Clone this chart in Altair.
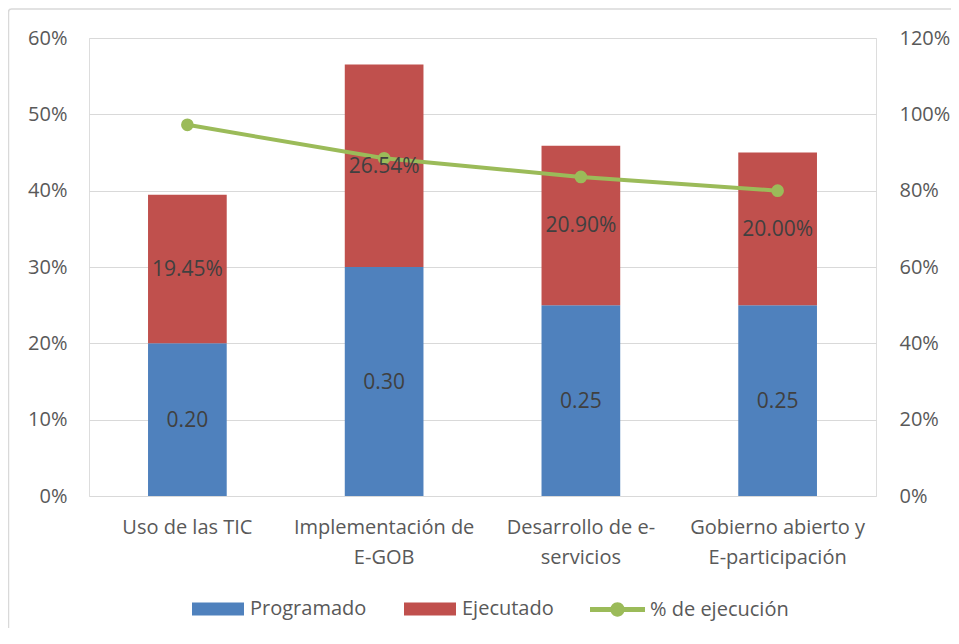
import altair as alt
import pandas as pd

categorias = ["Uso de las TIC", "Implementación de E-GOB", "Desarrollo de e-servicios",
              "Gobierno abierto y E-participación"]
lineas_etiqueta = [["Uso de las TIC"], ["Implementación de", "E-GOB"],
                   ["Desarrollo de e-", "servicios"], ["Gobierno abierto y", "E-participación"]]
programado = [0.20, 0.30, 0.25, 0.25]
ejecutado = [0.1945, 0.2654, 0.2090, 0.2000]
pct_ejecucion = [0.9725, 0.8847, 0.8360, 0.8000]
series_barras = ["Programado", "Ejecutado"]
colores_barras = ["#4F81BD", "#C0504D"]
serie_linea = "% de ejecución"
color_linea = "#9BBB59"
ticks_izq = [0, 0.1, 0.2, 0.3, 0.4, 0.5, 0.6]
ticks_der = [0, 0.2, 0.4, 0.6, 0.8, 1.0, 1.2]

FONT = "Open Sans"
GRAY = "#595959"

rows = []
for c, p, e in zip(categorias, programado, ejecutado):
    rows.append({"categoria": c, "serie": series_barras[0], "valor": p, "orden": 0})
    rows.append({"categoria": c, "serie": series_barras[1], "valor": e, "orden": 1})
barras_df = pd.DataFrame(rows)
linea_df = pd.DataFrame({"categoria": categorias, "serie": serie_linea, "pct": pct_ejecucion})

# label expression for multi-line category labels
expr = "datum.label"
for c, lines in reversed(list(zip(categorias, lineas_etiqueta))):
    arr = "[" + ",".join("'" + l + "'" for l in lines) + "]"
    expr = f"datum.label === '{c}' ? {arr} : ({expr})"

x_enc = alt.X(
    "categoria:N", sort=categorias, title=None,
    scale=alt.Scale(paddingInner=0.6, paddingOuter=0.3),
    axis=alt.Axis(labelExpr=expr, labelAngle=0, labelFont=FONT, labelFontSize=20,
                  labelColor=GRAY, labelPadding=21, labelLineHeight=30, labelLimit=400,
                  domain=False, ticks=False, grid=False),
)

rect_path = "M-1,-0.25H1V0.25H-1Z"
line_path = ("M-1,-0.09H1V0.09H-1Z M0.26,0A0.26,0.26,0,1,1,-0.26,0"
             "A0.26,0.26,0,1,1,0.26,0Z")

leyenda_barras = alt.Legend(
    title=None, orient="none", legendX=103, legendY=545, direction="horizontal",
    symbolType=rect_path, symbolSize=2704, symbolStrokeWidth=0, symbolOpacity=1,
    labelOffset=6, columnPadding=37,
    labelFont=FONT, labelFontSize=20, labelColor=GRAY,
)
leyenda_linea = alt.Legend(
    title=None, orient="none", legendX=501, legendY=544, direction="horizontal",
    symbolType=line_path, symbolSize=3025, symbolStrokeWidth=0, symbolOpacity=1,
    symbolFillColor=color_linea,
    labelOffset=5, labelFont=FONT, labelFontSize=20, labelColor=GRAY,
)

borde = alt.Chart(alt.Data(values=[{"a": 1}])).mark_rect(
    fill="transparent", stroke="#D9D9D9", strokeWidth=1.5, cornerRadius=3
).encode(x=alt.value(-80.5), x2=alt.value(880), y=alt.value(-29), y2=alt.value(620))

barras = alt.Chart(barras_df).mark_bar().encode(
    x=x_enc,
    y=alt.Y("valor:Q", stack="zero", title=None,
            scale=alt.Scale(domain=[0, 0.6], nice=False),
            axis=alt.Axis(orient="left", values=ticks_izq, format=".0%", grid=True,
                          gridColor="#D9D9D9", gridWidth=1, domain=False, ticks=False,
                          labelPadding=22, labelFont=FONT, labelFontSize=20, labelColor=GRAY)),
    color=alt.Color("serie:N", scale=alt.Scale(domain=series_barras, range=colores_barras),
                    legend=leyenda_barras),
    order=alt.Order("orden:Q", sort="ascending"),
)

linea = alt.Chart(linea_df).mark_line(
    strokeWidth=4, point=alt.OverlayMarkDef(size=160, filled=True, fill=color_linea, strokeWidth=0)
).encode(
    x=x_enc,
    y=alt.Y("pct:Q", title=None, scale=alt.Scale(domain=[0, 1.2], nice=False),
            axis=alt.Axis(orient="right", values=ticks_der, format=".0%", grid=False,
                          domain=False, ticks=False, labelPadding=23,
                          labelFont=FONT, labelFontSize=20, labelColor=GRAY)),
    stroke=alt.Stroke("serie:N", scale=alt.Scale(domain=[serie_linea], range=[color_linea]),
                      legend=leyenda_linea),
)

textos = alt.Chart(barras_df).transform_stack(
    stack="valor", groupby=["categoria"], as_=["v0", "v1"], sort=[alt.SortField("orden")]
).transform_calculate(
    mid="(datum.v0 + datum.v1) / 2",
    etiqueta="datum.serie === 'Programado' ? format(datum.valor, '.2f') : format(datum.valor, '.2%')",
).mark_text(font=FONT, fontSize=21, color="#404040", baseline="middle", dy=1).encode(
    x=x_enc,
    y=alt.Y("mid:Q", scale=alt.Scale(domain=[0, 0.6], nice=False), axis=None),
    text="etiqueta:N",
)

chart = alt.layer(borde, barras, linea, textos).resolve_scale(y="independent").properties(
    width=787, height=458,
    autosize=alt.AutoSizeParams(type="none"),
    padding={"left": 81, "top": 30, "right": 75, "bottom": 132},
).configure_view(stroke=None).configure(font=FONT)

chart.save("out.html", embed_options={"renderer": "svg", "actions": False})
